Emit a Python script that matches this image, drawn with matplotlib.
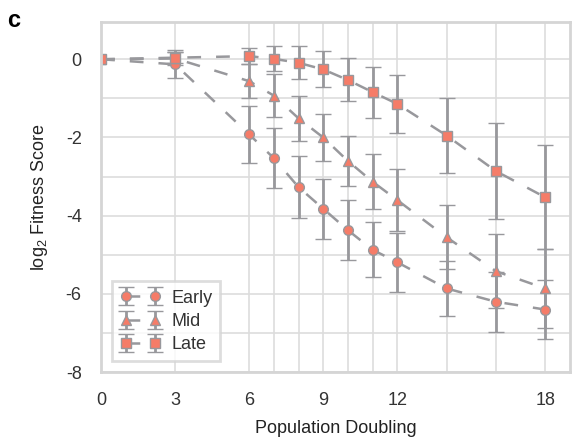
import numpy as np
import matplotlib
matplotlib.use("Agg")
import matplotlib.pyplot as plt
import seaborn as sns

sns.set_theme(style="whitegrid")
plt.rcParams["font.family"] = ["Liberation Sans", "DejaVu Sans"]
plt.rcParams["axes.unicode_minus"] = False
plt.rcParams["mathtext.fontset"] = "custom"
plt.rcParams["mathtext.rm"] = "Liberation Sans"

# data
doublings = [0, 3, 6, 7, 8, 9, 10, 11, 12, 14, 16, 18]
early = [0, -0.13, -1.92, -2.53, -3.27, -3.82, -4.37, -4.87, -5.19, -5.86, -6.2, -6.4]
early_err = [0, 0.36, 0.73, 0.77, 0.8, 0.77, 0.77, 0.7, 0.76, 0.7, 0.77, 0.75]
mid = [0, 0.02, -0.56, -0.93, -1.51, -2.0, -2.6, -3.13, -3.6, -4.55, -5.42, -5.86]
mid_err = [0, 0.16, 0.44, 0.55, 0.58, 0.6, 0.64, 0.7, 0.8, 0.82, 0.95, 1.0]
late = [0, 0.04, 0.08, 0.01, -0.09, -0.26, -0.53, -0.84, -1.14, -1.95, -2.86, -3.53]
late_err = [0, 0.14, 0.2, 0.32, 0.42, 0.46, 0.55, 0.65, 0.75, 0.95, 1.23, 1.33]

labeled_ticks = [0, 3, 6, 9, 12, 18]

fig = plt.figure(figsize=(5.81, 4.42), dpi=100)
ax = fig.add_axes([0.174, 0.158, 0.807, 0.792])

gray = "#98989c"
salmon = "#F57C68"
series = [("Early", early, early_err, "o"),
          ("Mid", mid, mid_err, "^"),
          ("Late", late, late_err, "s")]
for name, vals, errs, mk in series:
    ax.errorbar(doublings, vals, yerr=errs, fmt="--" + mk, color=gray,
                mfc=salmon, mec=gray, mew=1.0, ms=7, lw=1.8,
                elinewidth=2.0, capsize=5.5, capthick=1.5,
                dashes=(5.5, 6), label=name)

ax.set_xlim(0, 19)
ax.set_ylim(-8, 0.95)
ax.set_xticks(doublings)
ax.set_xticklabels([str(d) if d in labeled_ticks else "" for d in doublings])
ax.set_yticks([0, -2, -4, -6, -8])
ax.set_yticks([-1, -3, -5, -7], minor=True)
ax.grid(True, which="both", color="#dddddd", lw=1.2)
ax.tick_params(axis="both", which="both", length=0, labelsize=13,
               labelcolor="#333333", pad=14)

for sp in ax.spines.values():
    sp.set_color("#d5d5d5")
    sp.set_linewidth(2)

ax.set_xlabel("Population Doubling", fontsize=13, color="#222222", labelpad=8)
ax.set_ylabel(r"log$_2$ Fitness Score", fontsize=13, color="#222222", labelpad=11)

leg = ax.legend(loc="lower left", numpoints=2, fontsize=13, frameon=True,
                fancybox=False, borderaxespad=0.5, handlelength=2.2,
                labelspacing=0.35, borderpad=0.45, handletextpad=0.6,
                bbox_to_anchor=(0.005, 0.005))
leg.get_frame().set_edgecolor("#d5d5d5")
leg.get_frame().set_linewidth(2)
for t in leg.get_texts():
    t.set_color("#333333")

fig.text(0.013, 0.938, "c", fontsize=17, fontweight="bold", color="black")

fig.savefig("out.png", dpi=100)
